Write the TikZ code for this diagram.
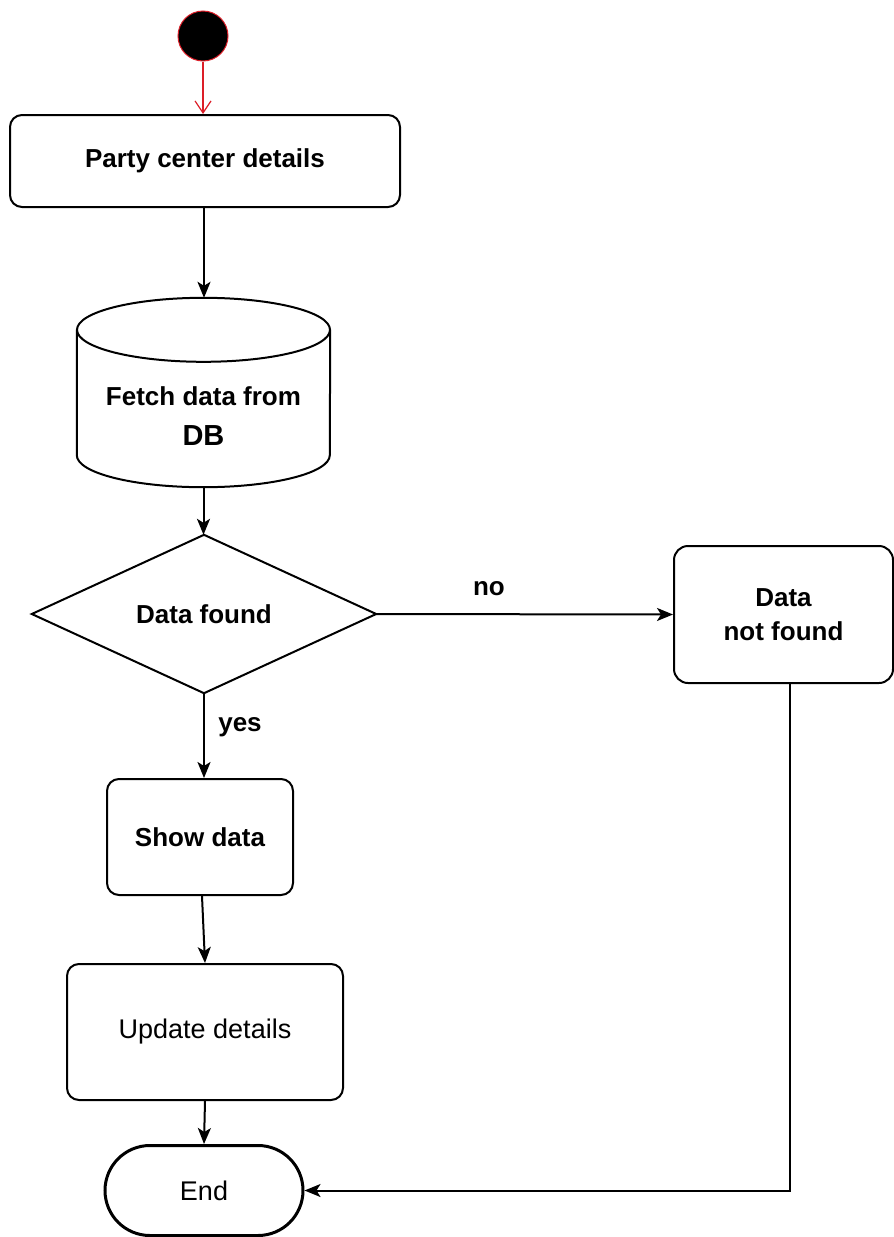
\documentclass[tikz,border=0pt]{standalone}
\usepackage{fontspec}
\setmainfont{Liberation Sans}
\usetikzlibrary{arrows.meta}
\definecolor{startred}{RGB}{220,30,40}
\tikzset{
  box/.style={draw, line width=2pt, rounded corners=12pt, align=center, inner sep=0pt},
  bt/.style={font=\fontsize{26}{34}\selectfont\bfseries},
  nt/.style={font=\fontsize{27}{34}\selectfont},
  conn/.style={line width=2pt, -{Stealth[length=16pt,width=13pt,inset=4pt]}},
}
\begin{document}
\begin{tikzpicture}[x=1pt,y=-1pt]
\fill[white] (0,0) rectangle (894,1237);
\useasboundingbox (0,0) rectangle (894,1237);

\node[circle, fill=black, draw=startred, line width=1pt, minimum size=50pt, inner sep=0pt] (start) at (203,36) {};
\node[box, bt, minimum width=390pt, minimum height=92pt] (party) at (205,161) {Party center details};

% cylinder
\node[minimum width=253pt, minimum height=189pt, inner sep=0pt] (db) at (203.5,392.5) {};
\draw[line width=2pt] ([yshift=-32pt]db.north) ellipse [x radius=126.5pt, y radius=32pt];
\draw[line width=2pt] ([yshift=-32pt]db.north west) -- ([yshift=32pt]db.south west)
  arc[start angle=180, end angle=360, x radius=126.5pt, y radius=32pt] -- ([yshift=-32pt]db.north east);
\node[align=center, inner sep=0pt, font=\fontsize{26}{40}\selectfont\bfseries] (dbtext) at (203.5,416) {Fetch data from\\{\fontsize{29}{40}\selectfont DB}};

% decision
\node[minimum width=344pt, minimum height=158pt, inner sep=0pt, bt] (dec) at (204,614) {Data found};
\draw[line width=2pt] (dec.north) -- (dec.east) -- (dec.south) -- (dec.west) -- cycle;

\node[box, bt, rounded corners=14pt, minimum width=219pt, minimum height=137pt] (nf) at (783.5,614.5) {Data\\not found};
\node[box, bt, minimum width=186pt, minimum height=116pt] (show) at (200,837) {Show data};
\node[box, nt, minimum width=276pt, minimum height=136pt] (upd) at (205,1032) {Update details};
\node[draw, line width=3pt, rounded corners=45pt, minimum width=198pt, minimum height=90pt, inner sep=0pt, nt] (end) at (204,1190.5) {End};

\draw[startred, line width=1.2pt, -{Straight Barb[length=12pt,width=16pt]}] (start.south) -- (start.south |- party.north);
\draw[conn] ([xshift=-1pt]party.south) -- ([xshift=-1pt]party.south |- db.north);
\draw[conn] (db.south) -- (db.south |- dec.north);
\draw[conn] (dec.east) -- node[bt, above=14pt, pos=0.38] (no) {no} (nf.west);
\draw[conn] (dec.south) -- node[bt, right=10pt, pos=0.4] (yes) {yes} (dec.south |- show.north);
\draw[conn] ([xshift=2pt]show.south) -- (upd.north);
\draw[conn] (upd.south) -- (end.north);
\draw[conn] ([xshift=6pt]nf.south) |- (end.east);
\end{tikzpicture}
\end{document}
